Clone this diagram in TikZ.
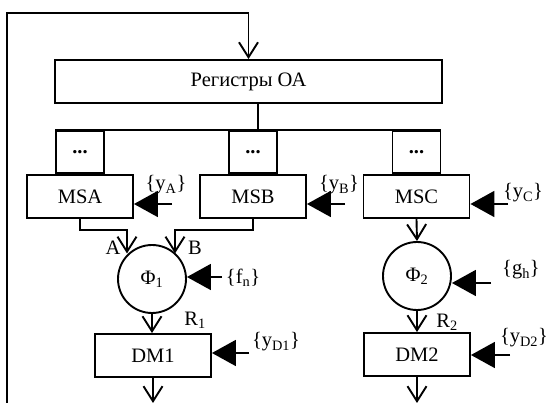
\documentclass[tikz,border=0pt]{standalone}
\usepackage{fontspec}
\setmainfont{Liberation Serif}
\usetikzlibrary{arrows.meta}

\begin{document}
\begin{tikzpicture}[x=1pt, y=-1pt, line width=1.9pt, font=\fontsize{20.5}{24}\selectfont]
  \tikzset{blok/.style={draw, rectangle, minimum height=43pt, inner sep=0pt},
           dotbox/.style={blok, minimum width=48pt, minimum height=42pt},
           fun/.style={draw, circle, minimum size=68pt, inner sep=0pt},
           flow/.style={-{Straight Barb[length=15pt, width=19pt]}},
           ctrl/.style={-{Triangle[length=24pt, width=26pt]}}}
  \useasboundingbox (0,0) rectangle (550,403);
  % blocks
  \node[blok, minimum width=387pt] (reg) at (248.5,81.5) {Регистры ОА};
  \node[blok, minimum width=106pt] (msa) at (80,196.5) {MSA};
  \node[blok, minimum width=106pt] (msb) at (253,196.5) {MSB};
  \node[blok, minimum width=106pt] (msc) at (416.5,196.5) {MSC};
  \node[dotbox, anchor=south] (d1) at (msa.north) {\textbf{...}};
  \node[dotbox, anchor=south] (d2) at (msb.north) {\textbf{...}};
  \node[dotbox, anchor=south] (d3) at (msc.north) {\textbf{...}};
  \node[fun] (phi1) at (152,279) {Φ\textsubscript{1}};
  \node[fun] (phi2) at (417,276) {Φ\textsubscript{2}};
  \node[blok, minimum width=116pt] (dm1) at (153,355.5) {DM1};
  \node[blok, minimum width=106pt] (dm2) at (417,354.5) {DM2};
  % bus and feedback
  \coordinate (tap) at (258,132);
  \draw (d1.north west) -- (d3.north east);
  \draw (reg.south -| tap) -- (tap);
  \coordinate (fb) at (7,403);
  \coordinate (fbtop) at (7,13);
  \draw[flow] (fb) -- (fbtop) -| (reg.north);
  % data paths
  \coordinate (ja) at (127,230);
  \coordinate (jb) at (175,230);
  \draw[flow] (msa.south) |- (ja) -- (ja |- phi1.133);
  \draw[flow] (msb.south) |- (jb) -- (jb |- phi1.47);
  \draw[flow] (msc.south) -- (phi2.north);
  \draw[flow] (phi1.south) -- (phi1.south |- dm1.north);
  \draw[flow] (phi2.south) -- (phi2.south |- dm2.north);
  \coordinate (o1) at (153,403);
  \coordinate (o2) at (417,403);
  \draw[flow] (dm1.south) -- (o1);
  \draw[flow] (dm2.south) -- (o2);
  \node (la) at (113,248) {A};
  \node (lb) at (195,248) {B};
  \node (r1) at (195,320) {R\textsubscript{1}};
  \node (r2) at (447,322) {R\textsubscript{2}};
  % control inputs
  \coordinate (ta) at (172,204);
  \coordinate (tb) at (345,204);
  \coordinate (tc) at (508,204);
  \coordinate (tf) at (222,277);
  \coordinate (tg) at (491,283);
  \coordinate (td1) at (249,353);
  \coordinate (td2) at (510,355);
  \draw[ctrl] (ta) -- (ta -| msa.east);
  \draw[ctrl] (tb) -- (tb -| msb.east);
  \draw[ctrl] (tc) -- (tc -| msc.east);
  \draw[ctrl] (tf) -- (tf -| phi1.east);
  \draw[ctrl] (tg) -- (tg -| phi2.east);
  \draw[ctrl] (td1) -- (td1 -| dm1.east);
  \draw[ctrl] (td2) -- (td2 -| dm2.east);
  \node (ya) at (166,185) {\{y\textsubscript{A}\}};
  \node (yb) at (339,185) {\{y\textsubscript{B}\}};
  \node (yc) at (523,193) {\{y\textsubscript{C}\}};
  \node (fn) at (243,278) {\{f\textsubscript{n}\}};
  \node (gh) at (521,270) {\{g\textsubscript{h}\}};
  \node (yd1) at (276,342) {\{y\textsubscript{D1}\}};
  \node (yd2) at (524,338) {\{y\textsubscript{D2}\}};
\end{tikzpicture}
\end{document}
